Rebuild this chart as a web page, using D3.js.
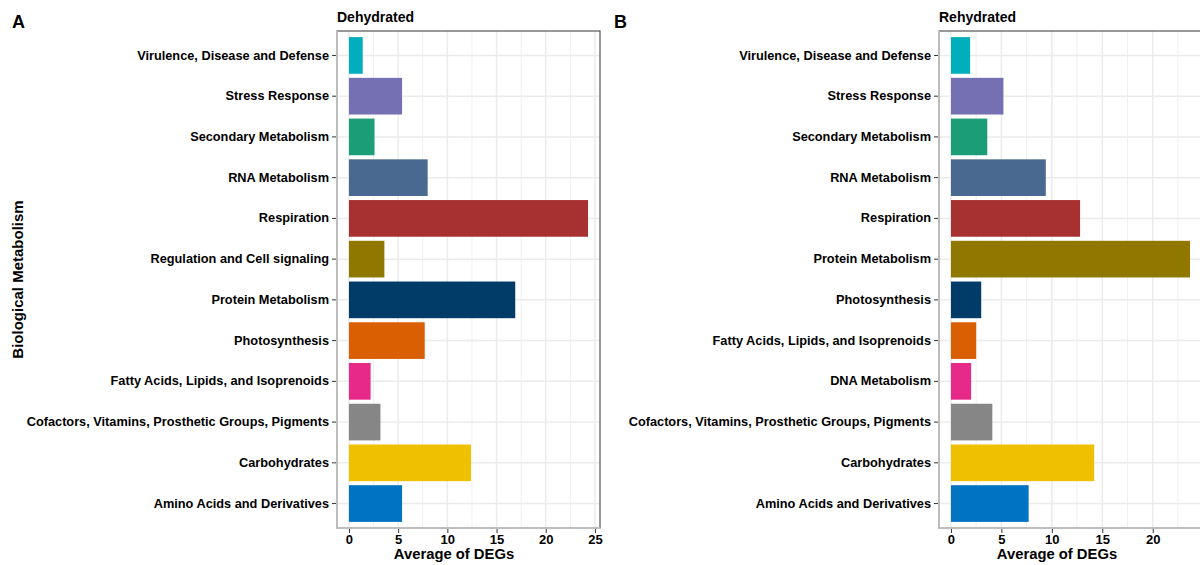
<!DOCTYPE html>
<html>
<head>
<meta charset="utf-8">
<script src="https://cdn.jsdelivr.net/npm/d3@7"></script>
<style>
  body { margin: 0; background: #fff; }
  svg { display: block; font-family: "Liberation Sans", Arial, Helvetica, sans-serif; }
  .tick text { font-weight: bold; fill: #000; }
</style>
</head>
<body>
<svg id="chart" width="1200" height="565"></svg>
<script>
// categories are listed top to bottom, as drawn
const dehydratedCategories = [
  "Virulence, Disease and Defense",
  "Stress Response",
  "Secondary Metabolism",
  "RNA Metabolism",
  "Respiration",
  "Regulation and Cell signaling",
  "Protein Metabolism",
  "Photosynthesis",
  "Fatty Acids, Lipids, and Isoprenoids",
  "Cofactors, Vitamins, Prosthetic Groups, Pigments",
  "Carbohydrates",
  "Amino Acids and Derivatives"
];
const dehydratedValues = [1.4, 5.4, 2.6, 8.0, 24.3, 3.6, 16.9, 7.7, 2.2, 3.2, 12.4, 5.4];

const rehydratedCategories = [
  "Virulence, Disease and Defense",
  "Stress Response",
  "Secondary Metabolism",
  "RNA Metabolism",
  "Respiration",
  "Protein Metabolism",
  "Photosynthesis",
  "Fatty Acids, Lipids, and Isoprenoids",
  "DNA Metabolism",
  "Cofactors, Vitamins, Prosthetic Groups, Pigments",
  "Carbohydrates",
  "Amino Acids and Derivatives"
];
const rehydratedValues = [1.9, 5.2, 3.6, 9.4, 12.8, 23.7, 3.0, 2.5, 2.0, 4.1, 14.2, 7.7];

// fill colours by row position, top to bottom
const barColors = [
  "#00AFBB", "#7570B3", "#1B9E77", "#4A6990", "#A73030", "#8F7700",
  "#003C67", "#D95F02", "#E7298A", "#868686", "#EFC000", "#0073C2"
];

const xTicks = [0, 5, 10, 15, 20, 25];

const svg = d3.select("#chart");

const panelTop = 31, panelBottom = 528, panelWidth = 263;

function drawPanel(opts) {
  const { left, categories, values, title, tag, tagX, xTitleX } = opts;
  const maxV = d3.max(values);

  const x = d3.scaleLinear()
    .domain([-0.05 * maxV, 1.05 * maxV])
    .range([left, left + panelWidth]);

  const y = d3.scaleBand()
    .domain(categories)
    .range([panelTop, panelBottom])
    .paddingInner(0.1)
    .paddingOuter(0.15);

  const g = svg.append("g");

  // grid: minor vertical lines first
  const minor = d3.range(2.5, 1.05 * maxV, 5);
  g.selectAll(".minor").data(minor).enter().append("line")
    .attr("x1", d => x(d)).attr("x2", d => x(d))
    .attr("y1", panelTop).attr("y2", panelBottom)
    .style("stroke", "#f0f0f0").style("stroke-width", 1);

  const major = xTicks.filter(d => d <= 1.05 * maxV);
  g.selectAll(".major").data(major).enter().append("line")
    .attr("x1", d => x(d)).attr("x2", d => x(d))
    .attr("y1", panelTop).attr("y2", panelBottom)
    .style("stroke", "#ebebeb").style("stroke-width", 1.5);

  g.selectAll(".hgrid").data(categories).enter().append("line")
    .attr("x1", left).attr("x2", left + panelWidth)
    .attr("y1", d => y(d) + y.bandwidth() / 2)
    .attr("y2", d => y(d) + y.bandwidth() / 2)
    .style("stroke", "#ebebeb").style("stroke-width", 1.5);

  // bars
  g.selectAll(".bar").data(categories).enter().append("rect")
    .attr("class", "bar")
    .attr("x", x(0))
    .attr("y", d => y(d))
    .attr("height", y.bandwidth())
    .attr("width", (d, i) => x(values[i]) - x(0))
    .style("fill", (d, i) => barColors[i]);

  // panel border (dark) then grey axis lines on left and bottom
  g.append("rect")
    .attr("x", left).attr("y", panelTop)
    .attr("width", panelWidth).attr("height", panelBottom - panelTop)
    .style("fill", "none").style("stroke", "#333").style("stroke-width", 1);
  g.append("line")
    .attr("x1", left).attr("x2", left).attr("y1", panelTop).attr("y2", panelBottom + 1)
    .style("stroke", "#bdbdbd").style("stroke-width", 2);
  g.append("line")
    .attr("x1", left - 1).attr("x2", left + panelWidth).attr("y1", panelBottom).attr("y2", panelBottom)
    .style("stroke", "#bdbdbd").style("stroke-width", 2);

  // y axis
  const yAxis = g.append("g")
    .attr("transform", `translate(${left - 1},0)`)
    .call(d3.axisLeft(y).tickSize(4).tickPadding(3));
  yAxis.select(".domain").remove();
  yAxis.selectAll(".tick line").style("stroke", "#333");
  yAxis.selectAll(".tick text").style("font-size", "12.75px");

  // x axis
  const xAxis = g.append("g")
    .attr("transform", `translate(0,${panelBottom + 1})`)
    .call(d3.axisBottom(x).tickValues(major).tickSize(4).tickPadding(2));
  xAxis.select(".domain").remove();
  xAxis.selectAll(".tick line").style("stroke", "#333");
  xAxis.selectAll(".tick text").style("font-size", "13px");

  // panel title and tag
  g.append("text")
    .attr("x", left).attr("y", 22)
    .style("font-size", "14px").style("font-weight", "bold")
    .text(title);
  g.append("text")
    .attr("x", tagX).attr("y", 28)
    .style("font-size", "18px").style("font-weight", "bold")
    .text(tag);

  // x axis title
  g.append("text")
    .attr("x", xTitleX).attr("y", 559)
    .attr("text-anchor", "middle")
    .style("font-size", "14.8px").style("font-weight", "bold")
    .text("Average of DEGs");
}

drawPanel({
  left: 337, categories: dehydratedCategories, values: dehydratedValues,
  title: "Dehydrated", tag: "A", tagX: 12, xTitleX: 454
});

drawPanel({
  left: 939, categories: rehydratedCategories, values: rehydratedValues,
  title: "Rehydrated", tag: "B", tagX: 614, xTitleX: 1057
});

// shared y axis title
svg.append("text")
  .attr("transform", `translate(23,${(panelTop + panelBottom) / 2}) rotate(-90)`)
  .attr("text-anchor", "middle")
  .style("font-size", "15px").style("font-weight", "bold")
  .text("Biological Metabolism");
</script>
</body>
</html>
